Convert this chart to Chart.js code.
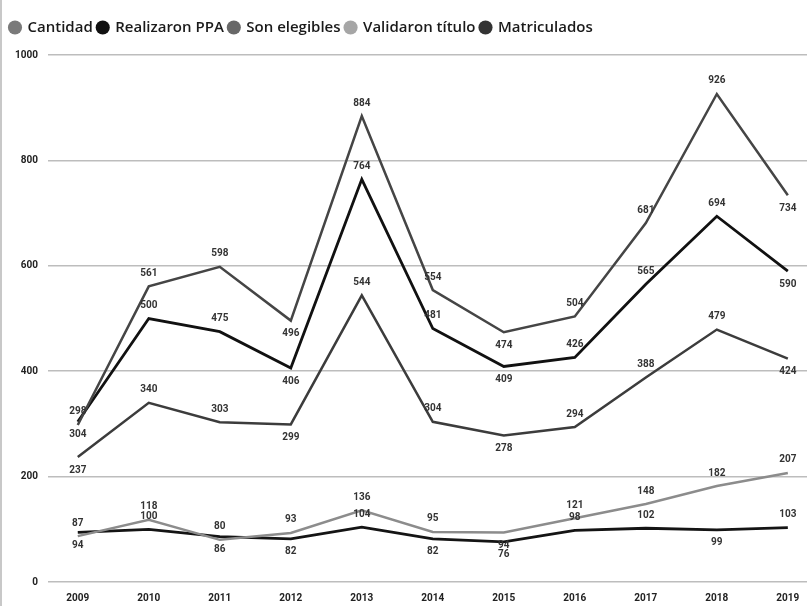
<!DOCTYPE html>
<html>
<head>
<meta charset="utf-8">
<script src="https://cdn.jsdelivr.net/npm/chart.js@4.4.1/dist/chart.umd.min.js"></script>
<style>
  html, body { margin: 0; padding: 0; background: #fff; }
  #wrap { position: relative; width: 807px; height: 606px; border-left: 2px solid #c8c8c8; box-sizing: border-box; }
</style>
</head>
<body>
<div id="wrap"><canvas id="chart" width="805" height="606"></canvas></div>
<script>
  const years = [2009, 2010, 2011, 2012, 2013, 2014, 2015, 2016, 2017, 2018, 2019];
  const cantidad = [298, 561, 598, 496, 884, 554, 474, 504, 681, 926, 734];
  const realizaron = [304, 500, 475, 406, 764, 481, 409, 426, 565, 694, 590];
  const elegibles = [237, 340, 303, 299, 544, 304, 278, 294, 388, 479, 424];
  const validaron = [87, 118, 80, 93, 136, 95, 94, 121, 148, 182, 207];
  const matriculados = [94, 100, 86, 82, 104, 82, 76, 98, 102, 99, 103];
  const yTicks = [0, 200, 400, 600, 800, 1000];

  // 1 = label above the point, -1 = below
  const sideCantidad = [1, 1, 1, -1, 1, 1, -1, 1, 1, 1, -1];
  const sideRealizaron = [-1, 1, 1, -1, 1, 1, -1, 1, 1, 1, -1];
  const sideElegibles = [-1, 1, 1, -1, 1, 1, -1, 1, 1, 1, -1];
  const sideValidaron = [1, 1, 1, 1, 1, 1, -1, 1, 1, 1, 1];
  const sideMatriculados = [-1, 1, -1, -1, 1, -1, -1, 1, 1, -1, 1];

  const pts = vals => vals.map((v, i) => ({ x: years[i], y: v }));
  const mk = (label, vals, line, dot, width, sides) => ({
    label, data: pts(vals), borderColor: line, backgroundColor: dot,
    borderWidth: width, pointRadius: 0, tension: 0, sides,
  });

  const datasets = [
    mk('Cantidad', cantidad, '#454545', '#7a7a7a', 2.5, sideCantidad),
    mk('Realizaron PPA', realizaron, '#111111', '#111111', 2.8, sideRealizaron),
    mk('Son elegibles', elegibles, '#3c3c3c', '#686868', 2.5, sideElegibles),
    mk('Validaron título', validaron, '#8c8c8c', '#a6a6a6', 2.5, sideValidaron),
    mk('Matriculados', matriculados, '#141414', '#333333', 2.8, sideMatriculados),
  ];

  const valueLabels = {
    id: 'valueLabels',
    afterDatasetsDraw(chart) {
      const ctx = chart.ctx;
      ctx.save();
      ctx.font = 'bold 10px Roboto';
      ctx.fillStyle = '#333';
      ctx.textAlign = 'center';
      ctx.textBaseline = 'middle';
      chart.data.datasets.forEach((ds, di) => {
        chart.getDatasetMeta(di).data.forEach((el, i) => {
          ctx.fillText(String(ds.data[i].y), el.x, el.y - ds.sides[i] * 13);
        });
      });
      ctx.restore();
    },
  };

  // extra room between legend and plot
  const legendGap = {
    id: 'legendGap',
    beforeInit(chart) {
      const fit = chart.legend.fit;
      chart.legend.fit = function () { fit.call(this); this.height += 10; };
    },
  };

  new Chart(document.getElementById('chart'), {
    type: 'line',
    data: { datasets },
    plugins: [legendGap, valueLabels],
    options: {
      responsive: false,
      animation: false,
      layout: { padding: { left: 3, right: 0, top: 15, bottom: 0 } },
      plugins: {
        tooltip: { enabled: false },
        legend: {
          position: 'top',
          align: 'start',
          labels: {
            usePointStyle: true,
            pointStyle: 'circle',
            boxWidth: 10,
            boxHeight: 10,
            padding: 5,
            color: '#1a1a1a',
            font: { family: 'Open Sans', size: 15, weight: '600' },
            generateLabels(chart) {
              return chart.data.datasets.map((ds, i) => ({
                text: ds.label, fillStyle: ds.backgroundColor, strokeStyle: ds.backgroundColor,
                lineWidth: 0, pointStyle: 'circle', datasetIndex: i, fontColor: '#1a1a1a',
              }));
            },
          },
        },
      },
      scales: {
        x: {
          type: 'linear',
          min: 2008.58,
          max: 2019.27,
          afterBuildTicks(axis) { axis.ticks = years.map(v => ({ value: v })); },
          grid: { display: false },
          border: { display: false },
          ticks: { color: '#222', font: { family: 'Roboto', size: 10, weight: 'bold' }, padding: 2, maxRotation: 0,
            callback: v => String(v) },
        },
        y: {
          min: 0,
          max: 1000,
          afterBuildTicks(axis) { axis.ticks = yTicks.map(v => ({ value: v })); },
          grid: { color: '#bdbdbd', lineWidth: 1.6, drawTicks: false },
          border: { display: false },
          ticks: { color: '#222', font: { family: 'Roboto', size: 10, weight: 'bold' }, padding: 10,
            callback: v => String(v) },
        },
      },
    },
  });
</script>
</body>
</html>
